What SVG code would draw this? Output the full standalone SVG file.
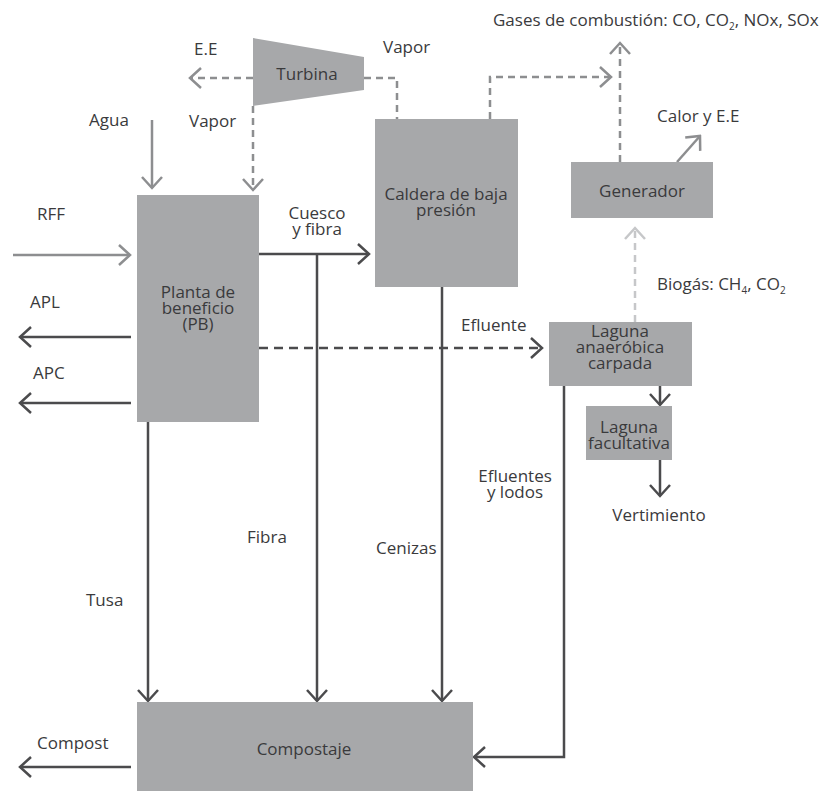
<svg xmlns="http://www.w3.org/2000/svg" width="830" height="791" viewBox="0 0 830 791">
  <style>
    .box { fill: #a7a8aa; }
    .t { font-family: "Open Sans", "Noto Sans", "Liberation Sans", sans-serif; font-size: 17px; fill: #3a3a3c; }
    .c { text-anchor: middle; }
    .dark { fill: none; stroke: #4b4b4d; stroke-width: 2.5; }
    .gray { fill: none; stroke: #8d8e90; stroke-width: 2.5; }
    .light { fill: none; stroke: #c6c7c9; stroke-width: 2.5; }
    .dash { stroke-dasharray: 7 5; }
    .dash2 { stroke-dasharray: 9 6; }
  </style>
  <defs>
    <marker id="ah-dark" markerUnits="userSpaceOnUse" viewBox="-14 -12 16 24" refX="0" refY="0" markerWidth="16" markerHeight="24" orient="auto">
      <path d="M-11,-10 L0,0 L-11,10" fill="none" stroke="#4b4b4d" stroke-width="2.5"/>
    </marker>
    <marker id="ah-gray" markerUnits="userSpaceOnUse" viewBox="-14 -12 16 24" refX="0" refY="0" markerWidth="16" markerHeight="24" orient="auto">
      <path d="M-11,-10 L0,0 L-11,10" fill="none" stroke="#8d8e90" stroke-width="2.5"/>
    </marker>
    <marker id="ah-light" markerUnits="userSpaceOnUse" viewBox="-14 -12 16 24" refX="0" refY="0" markerWidth="16" markerHeight="24" orient="auto">
      <path d="M-11,-10 L0,0 L-11,10" fill="none" stroke="#c6c7c9" stroke-width="2.5"/>
    </marker>
  </defs>

  <!-- connectors -->
  <g id="connectors">
    <!-- inputs to the plant -->
    <path class="gray" d="M13,255 H130" marker-end="url(#ah-gray)"/>
    <path class="gray" d="M152,120 V188" marker-end="url(#ah-gray)"/>
    <!-- plant outputs -->
    <path class="dark" d="M131,337 H20" marker-end="url(#ah-dark)"/>
    <path class="dark" d="M131,403 H20" marker-end="url(#ah-dark)"/>
    <!-- turbine steam / power -->
    <path class="gray dash" d="M253,78 H190" marker-end="url(#ah-gray)"/>
    <path class="gray dash" d="M253,106 V190" marker-end="url(#ah-gray)"/>
    <path class="gray dash" d="M364,78 H397 V119"/>
    <!-- boiler flue gases -->
    <path class="gray dash" d="M490,119 V77 H611" marker-end="url(#ah-gray)"/>
    <path class="gray dash" d="M620,162 V43" marker-end="url(#ah-gray)"/>
    <!-- generator output -->
    <path class="gray" d="M677,162 L700,136" marker-end="url(#ah-gray)"/>
    <!-- biogas -->
    <path class="light dash" d="M635,322 V228" marker-end="url(#ah-light)"/>
    <!-- kernel and fibre to boiler -->
    <path class="dark" d="M259,254 H369" marker-end="url(#ah-dark)"/>
    <!-- effluent -->
    <path class="dark dash2" d="M259,348 H542" marker-end="url(#ah-dark)"/>
    <!-- flows to composting -->
    <path class="dark" d="M148,421 V701" marker-end="url(#ah-dark)"/>
    <path class="dark" d="M317,254 V701" marker-end="url(#ah-dark)"/>
    <path class="dark" d="M442,287 V701" marker-end="url(#ah-dark)"/>
    <path class="dark" d="M564,386 V757 H474" marker-end="url(#ah-dark)"/>
    <!-- lagoons -->
    <path class="dark" d="M660,386 V405" marker-end="url(#ah-dark)"/>
    <path class="dark" d="M660,460 V496" marker-end="url(#ah-dark)"/>
    <!-- compost out -->
    <path class="dark" d="M131,767 H20" marker-end="url(#ah-dark)"/>
  </g>

  <!-- nodes -->
  <g id="turbina">
    <polygon class="box" points="253,38 364,57 364,90 253,106"/>
    <text class="t c" x="307" y="80">Turbina</text>
  </g>
  <g id="planta">
    <rect class="box" x="137" y="195" width="122" height="227"/>
    <text class="t c" x="198" y="298">Planta de</text>
    <text class="t c" x="198" y="314">beneficio</text>
    <text class="t c" x="198" y="330">(PB)</text>
  </g>
  <g id="caldera">
    <rect class="box" x="375" y="119" width="143" height="168"/>
    <text class="t c" x="446" y="200">Caldera de baja</text>
    <text class="t c" x="446" y="216">presión</text>
  </g>
  <g id="generador">
    <rect class="box" x="571" y="162" width="142" height="56"/>
    <text class="t c" x="642" y="197">Generador</text>
  </g>
  <g id="laguna-anaerobica">
    <rect class="box" x="549" y="322" width="143" height="64"/>
    <text class="t c" x="620" y="337">Laguna</text>
    <text class="t c" x="620" y="353">anaeróbica</text>
    <text class="t c" x="620" y="369">carpada</text>
  </g>
  <g id="laguna-facultativa">
    <rect class="box" x="586" y="406" width="86" height="54"/>
    <text class="t c" x="629" y="433">Laguna</text>
    <text class="t c" x="629" y="449">facultativa</text>
  </g>
  <g id="compostaje">
    <rect class="box" x="137" y="702" width="336" height="89"/>
    <text class="t c" x="304" y="755">Compostaje</text>
  </g>

  <!-- flow labels -->
  <g id="labels">
    <text class="t" x="37" y="220">RFF</text>
    <text class="t" x="89" y="126">Agua</text>
    <text class="t" x="189" y="127">Vapor</text>
    <text class="t" x="194" y="55">E.E</text>
    <text class="t" x="383" y="53">Vapor</text>
    <text class="t" x="30" y="308">APL</text>
    <text class="t" x="33" y="379">APC</text>
    <text class="t c" x="317" y="219">Cuesco</text>
    <text class="t c" x="317" y="235">y fibra</text>
    <text class="t" x="461" y="331">Efluente</text>
    <text class="t c" x="515" y="482">Efluentes</text>
    <text class="t c" x="515" y="498">y lodos</text>
    <text class="t" x="86" y="606">Tusa</text>
    <text class="t" x="247" y="543">Fibra</text>
    <text class="t" x="376" y="554">Cenizas</text>
    <text class="t" x="37" y="749">Compost</text>
    <text class="t c" x="659" y="521">Vertimiento</text>
    <text class="t" x="657" y="122">Calor y E.E</text>
    <text class="t" x="657" y="290">Biogás: CH<tspan font-size="10" dy="4">4</tspan><tspan dy="-4">, CO</tspan><tspan font-size="10" dy="4">2</tspan></text>
    <text class="t" x="493" y="26">Gases de combustión: CO, CO<tspan font-size="10" dy="4">2</tspan><tspan dy="-4">, NOx, SOx</tspan></text>
  </g>
</svg>
